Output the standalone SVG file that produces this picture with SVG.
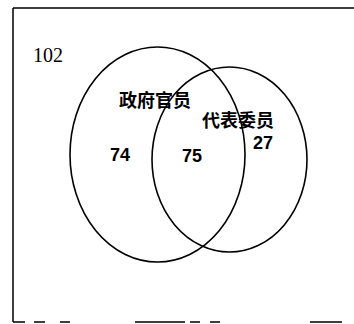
<svg xmlns="http://www.w3.org/2000/svg" width="354" height="324" viewBox="0 0 354 324">
<style>
.frame{stroke:#000;stroke-width:1.5;fill:none}
.set{stroke:#000;stroke-width:1.6;fill:none}
.serif{font-family:"Liberation Serif",serif;font-size:20px;fill:#000}
.num{font-family:"Liberation Sans",sans-serif;font-size:18px;fill:#000;font-weight:bold}
.lbl{font-family:"Noto Sans CJK SC",sans-serif;font-size:18px;font-weight:bold;fill:#000}
</style>
<rect width="354" height="324" fill="#fff"/>
<g id="frame">
<path class="frame" d="M13,8 H354 M13,8 V322 M13,322 H25 M34,322 H45 M60,322 H70 M135,322 H185 M190,322 H200 M210,322 H220 M310,322 H342"/>
</g>
<g id="outside"><text class="serif" x="33" y="62">102</text></g>
<g id="gov">
<ellipse class="set" cx="157.5" cy="154.5" rx="87.5" ry="107.5"/>
<text class="lbl" x="119" y="107">政府官员</text>
<text class="num" x="110" y="161">74</text>
</g>
<g id="rep">
<ellipse class="set" cx="229.5" cy="159.5" rx="77.5" ry="92.5"/>
<text class="lbl" x="202" y="127">代表委员</text>
<text class="num" x="253" y="149">27</text>
</g>
<g id="both"><text class="num" x="182" y="162">75</text></g>
</svg>
